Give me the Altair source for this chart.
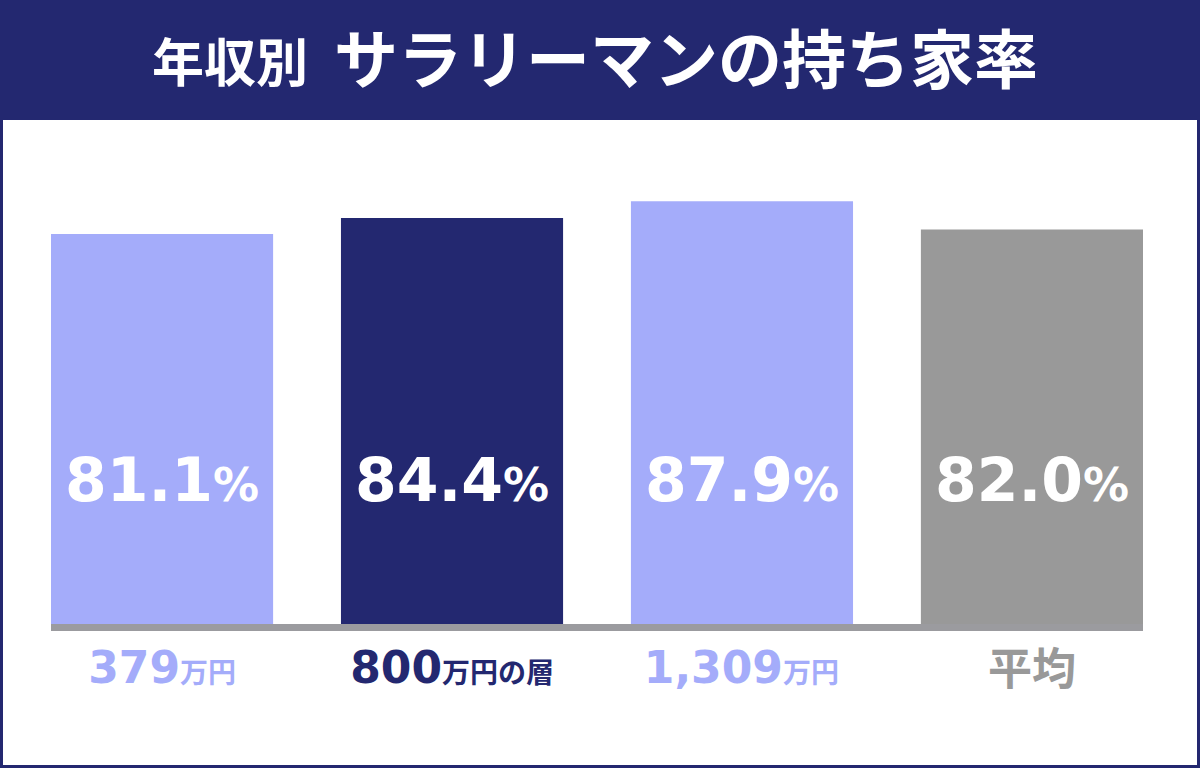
import altair as alt
import pandas as pd

# ---- data ----
categories = ["379万円", "800万円の層", "1,309万円", "平均"]
values = [81.1, 84.4, 87.9, 82.0]
cat_numbers = ["379", "800", "1,309", "平均"]
cat_suffixes = ["万円", "万円の層", "万円", ""]
title_small = "年収別"
title_big = "サラリーマンの持ち家率"

# ---- styles ----
NAVY = "#232870"
LIGHT = "#A4ACFA"
GRAY = "#999999"
bar_colors = [LIGHT, NAVY, LIGHT, GRAY]
label_dx = [18, -10, 41, 0]

W, H = 1092, 481
PAD = {"left": 51, "top": 143, "right": 57, "bottom": 144}

df = pd.DataFrame({"cat": categories, "value": values,
                   "num": cat_numbers, "suf": cat_suffixes})
one = pd.DataFrame({"k": [0]})

base = alt.Chart(df)
x = alt.X("cat:N", sort=categories,
          scale=alt.Scale(paddingInner=0.234, paddingOuter=0), axis=None)
y = alt.Y("value:Q", scale=alt.Scale(domain=[0, 100]), axis=None)
color = alt.Color("cat:N", scale=alt.Scale(domain=categories, range=bar_colors),
                  legend=None)

header = alt.Chart(one).mark_rect(color=NAVY).encode(
    x=alt.value(-PAD["left"]), x2=alt.value(W + PAD["right"]),
    y=alt.value(-PAD["top"]), y2=alt.value(120 - PAD["top"]))

border = alt.Chart(one).mark_rect(fill=None, stroke=NAVY, strokeWidth=3).encode(
    x=alt.value(-PAD["left"] + 1.5), x2=alt.value(W + PAD["right"] - 1.5),
    y=alt.value(-PAD["top"] + 1.5), y2=alt.value(H + PAD["bottom"] - 1.5))

t_small = alt.Chart(one).mark_text(
    align="left", baseline="middle", font="Noto Sans CJK JP", fontWeight="bold",
    fontSize=52, color="white").encode(
    x=alt.value(152 - PAD["left"]), y=alt.value(66 - PAD["top"]),
    text=alt.value(title_small))

t_big = alt.Chart(one).mark_text(
    align="left", baseline="middle", font="Noto Sans CJK JP", fontWeight="bold",
    fontSize=64, color="white").encode(
    x=alt.value(334 - PAD["left"]), y=alt.value(64 - PAD["top"]),
    text=alt.value(title_big))

bars = base.mark_bar().encode(x=x, y=y, color=color)

baseline_rule = alt.Chart(one).mark_rule(color="#9B9B9F", strokeWidth=7, yOffset=3.5).encode(
    y=alt.datum(0), x=alt.value(0), x2=alt.value(W))

val_num = base.mark_text(
    align="right", baseline="alphabetic", dx=51, font="DejaVu Sans",
    fontWeight="bold", fontSize=60, color="white").encode(
    x=x, y=alt.value(501 - PAD["top"]),
    text=alt.Text("value:Q", format=".1f"))

val_pct = base.mark_text(
    align="left", baseline="alphabetic", dx=51, font="DejaVu Sans",
    fontWeight="bold", fontSize=46, color="white").encode(
    x=x, y=alt.value(501 - PAD["top"]), text=alt.value("%"))

cat_layers = []
for cat, suf, dx in zip(categories, cat_suffixes, label_dx):
    sub = base.transform_filter(alt.datum.cat == cat)
    if suf:
        cat_layers.append(sub.mark_text(
            align="right", baseline="alphabetic", dx=dx, font="DejaVu Sans",
            fontWeight="bold", fontSize=44).encode(
            x=x, y=alt.value(683 - PAD["top"]), text="num:N", color=color))
        cat_layers.append(sub.mark_text(
            align="left", baseline="alphabetic", dx=dx, font="Noto Sans CJK JP",
            fontWeight="bold", fontSize=28).encode(
            x=x, y=alt.value(683 - PAD["top"]), text="suf:N", color=color))
    else:
        cat_layers.append(sub.mark_text(
            align="center", baseline="alphabetic", dx=dx, font="Noto Sans CJK JP",
            fontWeight="bold", fontSize=44).encode(
            x=x, y=alt.value(685 - PAD["top"]), text="num:N", color=color))

chart = alt.layer(
    header, border, t_small, t_big, bars, baseline_rule, val_num, val_pct, *cat_layers
).properties(
    width=W, height=H, padding=PAD, autosize="none", background="white"
).configure_view(stroke=None)

chart.save("out.html", embed_options={"renderer": "svg", "actions": False})
